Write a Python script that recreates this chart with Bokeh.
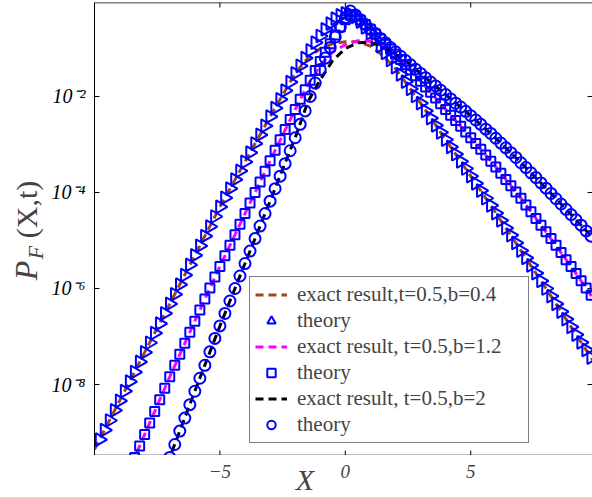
import math
from bokeh.plotting import figure
from bokeh.layouts import row, column
from bokeh.models import (Range1d, FixedTicker, Legend, LegendItem, Label, Span,
                          CustomJSTickFormatter)
from bokeh.embed import file_html
from bokeh.resources import INLINE

# ---------------- data (log10 of P_F) ----------------
X_theory = [-9.8, -9.6, -9.4, -9.2, -9.0, -8.8, -8.6, -8.4, -8.2, -8.0,
            -7.8, -7.6, -7.4, -7.2, -7.0, -6.8, -6.6, -6.4, -6.2, -6.0,
            -5.8, -5.6, -5.4, -5.2, -5.0, -4.8, -4.6, -4.4, -4.2, -4.0,
            -3.8, -3.6, -3.4, -3.2, -3.0, -2.8, -2.6, -2.4, -2.2, -2.0,
            -1.8, -1.6, -1.4, -1.2, -1.0, -0.8, -0.6, -0.4, -0.2,
            0.0,
            0.2, 0.4, 0.6, 0.8, 1.0, 1.2, 1.4, 1.6, 1.8, 2.0,
            2.2, 2.4, 2.6, 2.8, 3.0, 3.2, 3.4, 3.6, 3.8, 4.0,
            4.2, 4.4, 4.6, 4.8, 5.0, 5.2, 5.4, 5.6, 5.8, 6.0,
            6.2, 6.4, 6.6, 6.8, 7.0, 7.2, 7.4, 7.6, 7.8, 8.0,
            8.2, 8.4, 8.6, 8.8, 9.0, 9.2, 9.4, 9.6, 9.8]

# theory, b = 0.4 (triangles)
log_theory_b04 = [-9.15, -8.95, -8.75, -8.54, -8.34, -8.14, -7.94, -7.74, -7.53, -7.33,
                  -7.13, -6.93, -6.73, -6.52, -6.32, -6.12, -5.92, -5.72, -5.51, -5.31,
                  -5.11, -4.91, -4.71, -4.5, -4.3, -4.11, -3.92, -3.73, -3.55, -3.36,
                  -3.17, -2.98, -2.8, -2.61, -2.42, -2.24, -2.06, -1.88, -1.7, -1.52,
                  -1.36, -1.2, -1.04, -0.88, -0.74, -0.6, -0.48, -0.38, -0.31,
                  -0.27,
                  -0.28, -0.34, -0.44, -0.56, -0.68, -0.81, -0.95, -1.09, -1.24, -1.39,
                  -1.54, -1.69, -1.84, -1.99, -2.14, -2.3, -2.45, -2.6, -2.75, -2.9,
                  -3.05, -3.2, -3.35, -3.5, -3.66, -3.81, -3.96, -4.12, -4.27, -4.43,
                  -4.58, -4.74, -4.89, -5.05, -5.21, -5.36, -5.52, -5.68, -5.84, -6.0,
                  -6.16, -6.32, -6.48, -6.64, -6.8, -6.96, -7.12, -7.28, -7.44]

# theory, b = 1.2 (squares)
log_theory_b12 = [-11.2, -10.96, -10.72, -10.48, -10.24, -10.0, -9.76, -9.52, -9.28, -9.04,
                  -8.8, -8.56, -8.32, -8.08, -7.84, -7.6, -7.37, -7.14, -6.91, -6.68,
                  -6.45, -6.22, -5.99, -5.76, -5.54, -5.32, -5.1, -4.88, -4.66, -4.44,
                  -4.22, -4.0, -3.78, -3.56, -3.34, -3.12, -2.9, -2.69, -2.48, -2.27,
                  -2.06, -1.86, -1.66, -1.46, -1.27, -1.08, -0.9, -0.72, -0.55,
                  -0.4,
                  -0.3, -0.33, -0.41, -0.5, -0.6, -0.7, -0.8, -0.91, -1.01, -1.12,
                  -1.23, -1.34, -1.45, -1.57, -1.68, -1.8, -1.91, -2.03, -2.15, -2.27,
                  -2.39, -2.5, -2.62, -2.74, -2.86, -2.98, -3.1, -3.22, -3.35, -3.47,
                  -3.6, -3.73, -3.86, -3.99, -4.12, -4.26, -4.4, -4.54, -4.68, -4.82,
                  -4.96, -5.1, -5.25, -5.4, -5.54, -5.69, -5.84, -5.99, -6.14]

# theory, b = 2 (circles)
log_theory_b2 = [-13.4, -13.12, -12.84, -12.56, -12.28, -12.0, -11.72, -11.44, -11.16, -10.88,
                 -10.6, -10.33, -10.06, -9.79, -9.52, -9.25, -8.97, -8.7, -8.42, -8.14,
                 -7.87, -7.6, -7.32, -7.04, -6.78, -6.52, -6.26, -6.0, -5.74, -5.48,
                 -5.22, -4.96, -4.7, -4.44, -4.18, -3.92, -3.66, -3.4, -3.13, -2.86,
                 -2.58, -2.3, -2.0, -1.72, -1.44, -1.2, -0.98, -0.76, -0.55,
                 -0.36,
                 -0.22, -0.3, -0.4, -0.5, -0.6, -0.69, -0.79, -0.88, -0.98, -1.07,
                 -1.16, -1.25, -1.34, -1.43, -1.52, -1.61, -1.7, -1.78, -1.87, -1.96,
                 -2.05, -2.14, -2.22, -2.31, -2.4, -2.49, -2.58, -2.68, -2.77, -2.87,
                 -2.97, -3.07, -3.17, -3.27, -3.38, -3.48, -3.59, -3.69, -3.8, -3.91,
                 -4.02, -4.13, -4.24, -4.35, -4.46, -4.57, -4.68, -4.8, -4.91]

# exact results (dashed lines)
X_exact = [-10, -9, -8, -7, -6, -5, -4, -3, -2, -1.5, -1, -0.5, 0, 0.5, 1, 1.5, 2, 2.5,
           3, 4, 5, 6, 7, 8, 9, 10]
log_exact_b04 = [-9.35, -8.34, -7.33, -6.32, -5.31, -4.3, -3.36, -2.42, -1.52, -1.2, -1.0,
                 -0.9, -0.86, -0.86, -0.95, -1.15, -1.42, -1.78, -2.14, -2.9, -3.66, -4.43,
                 -5.21, -6.0, -6.8, -7.6]
log_exact_b12 = [-11.68, -10.24, -9.04, -7.84, -6.68, -5.54, -4.44, -3.34, -2.27, -1.76,
                 -1.35, -1.07, -0.92, -0.84, -0.85, -0.95, -1.12, -1.4, -1.68, -2.27, -2.86,
                 -3.47, -4.12, -4.82, -5.54, -6.3]
log_exact_b2 = [-14.0, -12.28, -10.88, -9.52, -8.14, -6.78, -5.48, -4.18, -2.86, -2.12, -1.65,
                -1.25, -1.0, -0.88, -0.87, -0.96, -1.12, -1.3, -1.52, -1.96, -2.4, -2.87,
                -3.38, -3.91, -4.46, -5.02]

legend_labels = ["exact result,t=0.5,b=0.4", "theory",
                 "exact result, t=0.5,b=1.2", "theory",
                 "exact result, t=0.5,b=2", "theory"]

x_ticks = [-5, 0, 5]
x_tick_labels = ["\u22125", "0", "5"]
y_ticks = [1e-8, 1e-6, 1e-4, 1e-2]


def to_p(logs):
    return [10.0 ** v for v in logs]


SERIF = "Liberation Serif"
BLUE = "#0000ff"

x_lo, x_hi = -10.0, 9.854
y_lo, y_hi = 10 ** -9.479, 10 ** -0.042

# ---------------- main plot ----------------
p = figure(width=544, height=455, y_axis_type="log",
           x_range=Range1d(x_lo, x_hi), y_range=Range1d(y_lo, y_hi),
           output_backend="svg", toolbar_location=None,
           min_border_left=44, min_border_right=0, min_border_top=2, min_border_bottom=0)
p.outline_line_color = None
p.xgrid.visible = False
p.ygrid.visible = False
p.xaxis.visible = False
p.background_fill_color = "white"
p.border_fill_color = "white"

ax = p.yaxis[0]
ax.axis_line_color = "black"
ax.axis_line_width = 1
ax.major_tick_in = 5
ax.major_tick_out = 0
ax.minor_tick_in = 0
ax.minor_tick_out = 0
ax.major_tick_line_color = "black"
ax.major_label_text_font = SERIF
ax.major_label_text_font_style = "italic"
ax.major_label_text_font_size = "20px"
ax.major_label_text_color = "black"
ax.major_label_standoff = 9
ax.ticker = FixedTicker(ticks=y_ticks, minor_ticks=[])
ax.formatter = CustomJSTickFormatter(code="""
const sup = {"-": "\u207b", "0": "\u2070", "1": "\u00b9", "2": "\u00b2", "3": "\u00b3",
             "4": "\u2074", "5": "\u2075", "6": "\u2076", "7": "\u2077", "8": "\u2078", "9": "\u2079"};
const e = Math.round(Math.log10(tick));
return "10" + String(e).split("").map(c => sup[c]).join("");
""")

# box lines on top / bottom and the inward tick marks on top, bottom and right
p.add_layout(Span(location=y_hi, dimension="width", line_color="black", line_width=1.5))
p.add_layout(Span(location=y_lo, dimension="width", line_color="black", line_width=1.5))
tick_dec = 10 ** (5 / 48.0)
p.segment(x0=x_ticks, y0=[y_hi] * 3, x1=x_ticks, y1=[y_hi / tick_dec] * 3,
          line_color="black", line_width=1)
p.segment(x0=x_ticks, y0=[y_lo] * 3, x1=x_ticks, y1=[y_lo * tick_dec] * 3,
          line_color="black", line_width=1)
tick_len_right = 5 / 25.3
p.segment(x0=[x_hi] * len(y_ticks), y0=y_ticks, x1=[x_hi - tick_len_right] * len(y_ticks),
          y1=y_ticks, line_color="black", line_width=1)

# series
l1 = p.line(X_exact, to_p(log_exact_b04), line_color="#a0461e", line_width=3, line_dash="8 5")
m1 = p.scatter(X_theory, to_p(log_theory_b04), marker="triangle", angle=-math.pi / 2, size=13,
               fill_color=None, line_color=BLUE, line_width=2)
l2 = p.line(X_exact, to_p(log_exact_b12), line_color="#ff00ff", line_width=3, line_dash="8 5")
m2 = p.scatter(X_theory, to_p(log_theory_b12), marker="square", size=9,
               fill_color=None, line_color=BLUE, line_width=2)
l3 = p.line(X_exact, to_p(log_exact_b2), line_color="black", line_width=3, line_dash="8 5")
m3 = p.scatter(X_theory, to_p(log_theory_b2), marker="circle", size=11,
               fill_color=None, line_color=BLUE, line_width=2)

items = [LegendItem(label=lab, renderers=[r])
         for lab, r in zip(legend_labels, [l1, m1, l2, m2, l3, m3])]
legend = Legend(items=items, location=(155, 12))
legend.label_text_font = SERIF
legend.label_text_font_size = "21px"
legend.glyph_width = 32
legend.glyph_height = 21
legend.label_height = 21
legend.label_width = 226
legend.label_standoff = 10
legend.spacing = 1
legend.padding = 5
legend.margin = 0
legend.border_line_color = "black"
legend.border_line_width = 1
legend.background_fill_color = "white"
legend.background_fill_alpha = 1
p.add_layout(legend)

# ---------------- y-axis title strip (pixel coordinates, origin bottom-left) ----------------
ylab = figure(width=48, height=497, x_range=Range1d(0, 48), y_range=Range1d(0, 497),
              output_backend="svg", toolbar_location=None,
              min_border_left=0, min_border_right=0, min_border_top=0, min_border_bottom=0)
ylab.axis.visible = False
ylab.grid.visible = False
ylab.outline_line_color = None
ylab.add_layout(Label(x=25, y=227, text="P", text_font=SERIF, text_font_style="italic",
                      text_font_size="32px", angle=math.pi / 2, text_align="center",
                      text_baseline="middle"))
ylab.add_layout(Label(x=35, y=245, text="F", text_font=SERIF, text_font_style="italic",
                      text_font_size="22px", angle=math.pi / 2, text_align="center",
                      text_baseline="middle"))
ylab.add_layout(Label(x=26, y=288, text="(X,t)", text_font=SERIF,
                      text_font_size="30px", angle=math.pi / 2, text_align="center",
                      text_baseline="middle"))

# ---------------- x tick labels and x title strip ----------------
xlab = figure(width=544, height=42, x_range=p.x_range, y_range=Range1d(0, 42),
              output_backend="svg", toolbar_location=None,
              min_border_left=44, min_border_right=0, min_border_top=0, min_border_bottom=0)
xlab.axis.visible = False
xlab.grid.visible = False
xlab.outline_line_color = None
for xv, txt in zip(x_ticks, x_tick_labels):
    xlab.add_layout(Label(x=xv, y=26, text=txt, text_font=SERIF, text_font_style="italic",
                          text_font_size="19px", text_align="center",
                          text_baseline="middle"))
xlab.add_layout(Label(x=-1.61, y=18, text="X", text_font=SERIF, text_font_style="italic",
                      text_font_size="30px", text_align="center", text_baseline="middle"))

layout = row(ylab, column(p, xlab, spacing=0), spacing=0)
open("out.html", "w").write(file_html(layout, INLINE))
